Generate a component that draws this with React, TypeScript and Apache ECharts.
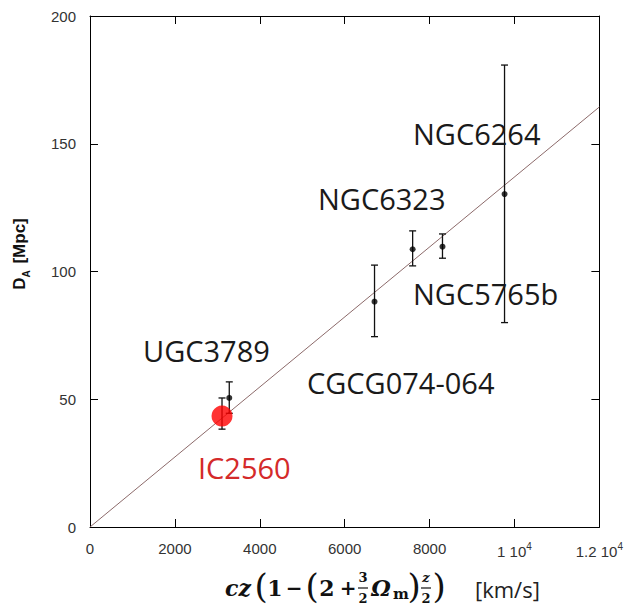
import React, { useEffect, useRef } from "react";
import * as echarts from "echarts";

const galaxies = ["UGC3789", "IC2560", "CGCG074-064", "NGC6323", "NGC5765b", "NGC6264"];
const velocity = [3281, 3110, 6703, 7601, 8304, 9766];
const distance = [50.5, 43.4, 88.2, 108.7, 109.7, 130.3];
const errLow = [44.5, 38.3, 74.5, 102.2, 105.2, 80.0];
const errHigh = [56.8, 50.5, 102.5, 115.9, 114.7, 180.8];
const fitX = [0, 12000];
const fitY = [0, 164.4];
const xTicks = [0, 2000, 4000, 6000, 8000, 10000, 12000];
const yTicks = [0, 50, 100, 150, 200];

const highlight = "IC2560";

// label placement (pixel layout, not data)
const labelLayout: Record<string, [number, number]> = {
  NGC6264: [413, 133],
  NGC6323: [318, 198],
  NGC5765b: [413, 293],
  UGC3789: [143, 350],
  "CGCG074-064": [307, 382],
  IC2560: [198, 467],
};

export default function App() {
  const ref = useRef<HTMLDivElement>(null);
  useEffect(() => {
    if (!ref.current) return;
    const chart = echarts.init(ref.current, null, { renderer: "svg" });
    const tickFont = "Liberation Sans, Arial, sans-serif";
    const labelFont = "'Open Sans', 'Noto Sans', sans-serif";
    const serif = "'DejaVu Serif', 'Liberation Serif', serif";

    const blackIdx = galaxies.map((g, i) => i).filter((i) => galaxies[i] !== highlight);
    const redIdx = galaxies.map((g, i) => i).filter((i) => galaxies[i] === highlight);

    const axisCommon = {
      min: 0,
      axisLine: { show: true, onZero: false, lineStyle: { color: "#000", width: 1 } },
      axisTick: { show: true, inside: true, length: 8, lineStyle: { color: "#000", width: 1 } },
      splitLine: { show: false },
    };

    const formulaY = 588;
    const g = (text: string, x: number, y: number, size: number, opts: any = {}) => ({
      type: "text",
      x,
      y,
      style: {
        text,
        align: opts.align || "center",
        verticalAlign: "middle",
        font: `${opts.style || "normal"} ${opts.weight || "bold"} ${size}px ${opts.family || serif}`,
        fill: opts.fill || "#111",
      },
    });

    const formula = [
      g("cz", 238, formulaY, 22, { style: "italic" }),
      g("(", 261, formulaY - 2, 34, { weight: "normal" }),
      g("1", 275, formulaY, 22),
      g("\u2212", 294, formulaY, 20),
      g("(", 312, formulaY - 2, 34, { weight: "normal" }),
      g("2", 327, formulaY, 22),
      g("+", 348, formulaY, 20),
      g("3", 363, formulaY - 11, 13),
      { type: "line", shape: { x1: 358, y1: formulaY, x2: 368, y2: formulaY }, style: { stroke: "#111", lineWidth: 1.2 } },
      g("2", 363, formulaY + 10, 13),
      g("\u03A9", 381, formulaY, 22, { style: "italic" }),
      g("m", 401, formulaY + 6, 15),
      g(")", 414, formulaY - 2, 34, { weight: "normal" }),
      g("z", 426, formulaY - 11, 13, { style: "italic" }),
      { type: "line", shape: { x1: 421, y1: formulaY, x2: 431, y2: formulaY }, style: { stroke: "#111", lineWidth: 1.2 } },
      g("2", 426, formulaY + 10, 13),
      g(")", 439, formulaY - 2, 34, { weight: "normal" }),
      g("[km/s]", 475, formulaY + 1, 22, { align: "left", weight: "normal", family: labelFont, fill: "#222" }),
    ];

    const nameLabels = galaxies.map((name) => {
      const [x, y] = labelLayout[name];
      return {
        type: "text",
        x,
        y,
        z: 50,
        style: {
          text: name,
          align: "left",
          verticalAlign: "middle",
          font: `normal 400 29px ${labelFont}`,
          fill: name === highlight ? "#d42a2a" : "#1a1a1a",
        },
      };
    });

    const yName = {
      type: "text",
      x: 19,
      y: 254,
      rotation: Math.PI / 2,
      style: {
        text: "{d|D}{s|A}  {d|[Mpc]}",
        align: "center",
        verticalAlign: "middle",
        rich: {
          d: { fontSize: 17, fontWeight: "bold", fontFamily: tickFont, lineHeight: 24, verticalAlign: "middle", fill: "#111" },
          s: { fontSize: 10, fontWeight: "bold", fontFamily: tickFont, lineHeight: 24, verticalAlign: "bottom", fill: "#111" },
        },
      },
    };

    chart.setOption({
      animation: false,
      backgroundColor: "#fff",
      grid: { left: 90, right: 24, top: 16, bottom: 85, containLabel: false },
      xAxis: [
        {
          ...axisCommon,
          type: "value",
          max: 12000,
          interval: 2000,
          position: "bottom",
          axisLabel: {
            show: true,
            margin: 14,
            color: "#333",
            fontSize: 15,
            fontFamily: tickFont,
            formatter: (v: number) => {
              if (v === 10000) return "{n|1 10}{s|4}";
              if (v === 12000) return "{n|1.2 10}{s|4}";
              return xTicks.includes(v) ? String(v) : "";
            },
            rich: {
              n: { fontSize: 15, fontFamily: tickFont, color: "#333", lineHeight: 18, verticalAlign: "bottom" },
              s: { fontSize: 10, fontFamily: tickFont, color: "#333", lineHeight: 18, verticalAlign: "top" },
            },
          },
        },
        {
          ...axisCommon,
          type: "value",
          max: 12000,
          interval: 2000,
          position: "top",
          axisLabel: { show: false },
        },
      ],
      yAxis: [
        {
          ...axisCommon,
          type: "value",
          max: 200,
          interval: 50,
          position: "left",
          axisLabel: {
            show: true,
            margin: 14,
            color: "#333",
            fontSize: 15,
            fontFamily: tickFont,
            formatter: (v: number) => (yTicks.includes(v) ? String(v) : ""),
          },
        },
        {
          ...axisCommon,
          type: "value",
          max: 200,
          interval: 50,
          position: "right",
          axisLabel: { show: false },
        },
      ],
      series: [
        {
          type: "line",
          data: fitX.map((x, i) => [x, fitY[i]]),
          symbol: "none",
          lineStyle: { color: "#8c6a6a", width: 1 },
          z: 1,
          silent: true,
        },
        {
          type: "custom",
          data: galaxies.map((_, i) => [velocity[i], errLow[i], errHigh[i]]),
          z: 3,
          renderItem: (params: any, api: any) => {
            const x = api.value(0);
            const lo = api.coord([x, api.value(1)]);
            const hi = api.coord([x, api.value(2)]);
            const hw = 3.5;
            const st = { stroke: "#111", lineWidth: 1.3 };
            return {
              type: "group",
              children: [
                { type: "line", shape: { x1: lo[0], y1: lo[1], x2: hi[0], y2: hi[1] }, style: st },
                { type: "line", shape: { x1: lo[0] - hw, y1: lo[1], x2: lo[0] + hw, y2: lo[1] }, style: st },
                { type: "line", shape: { x1: hi[0] - hw, y1: hi[1], x2: hi[0] + hw, y2: hi[1] }, style: st },
              ],
            };
          },
        },
        {
          type: "scatter",
          data: blackIdx.map((i) => [velocity[i], distance[i]]),
          symbol: "circle",
          symbolSize: 6,
          itemStyle: { color: "#000" },
          z: 4,
        },
        {
          type: "scatter",
          data: redIdx.map((i) => [velocity[i], distance[i]]),
          symbol: "circle",
          symbolSize: 21,
          itemStyle: { color: "#ff0000" },
          z: 5,
        },
      ],
      graphic: [...nameLabels, yName, ...formula],
    });
    return () => chart.dispose();
  }, []);

  return (
    <div
      ref={ref}
      style={{ position: "fixed", left: 0, top: 0, width: 626, height: 612, background: "#fff" }}
    />
  );
}
